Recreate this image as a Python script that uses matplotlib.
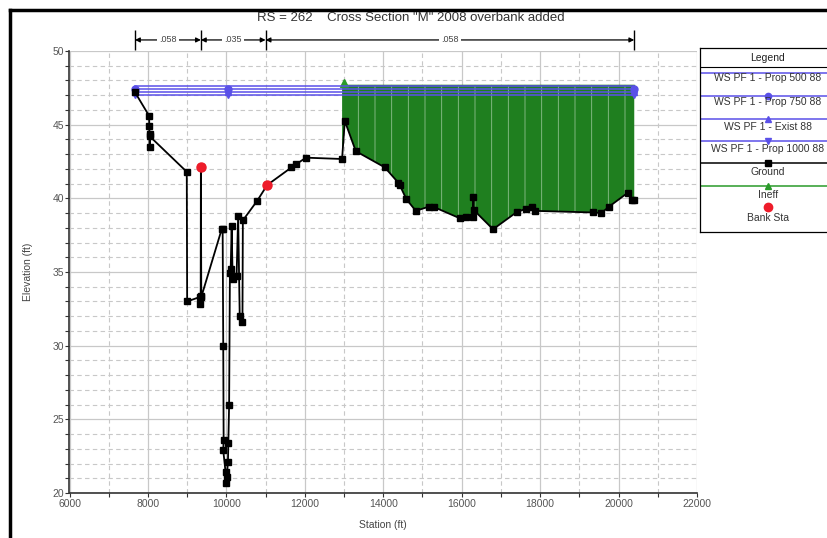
import matplotlib
matplotlib.use('Agg')
import matplotlib.pyplot as plt
from matplotlib.lines import Line2D
import numpy as np

plt.rcParams['font.family'] = ['Liberation Sans', 'DejaVu Sans']

# ground profile (station ft, elevation ft)
ground_sta = [7670, 8030, 8035, 8040, 8045, 8050, 8990, 9000, 9320, 9335, 9345, 9350, 9360,
              9880, 9905, 9920, 9930, 9920, 9980, 10000, 10010, 10040, 10050, 10070, 10090,
              10110, 10135, 10160, 10260, 10300, 10340, 10410, 10420, 10790, 11040, 11660,
              11770, 12030, 12950, 13020, 13300, 14040, 14380, 14420, 14590, 14830, 15170,
              15300, 15950, 16100, 16280, 16300, 16310, 16800, 17400, 17650, 17800, 17860,
              19350, 19560, 19760, 20240, 20330, 20400]
ground_elev = [47.2, 45.6, 44.9, 44.4, 43.5, 44.2, 41.8, 33.0, 33.3, 32.8, 33.4, 42.1, 33.3,
               37.9, 37.9, 30.0, 23.6, 22.9, 21.4, 20.7, 21.1, 22.1, 23.4, 26.0, 34.9,
               35.2, 38.1, 34.5, 34.7, 38.8, 32.0, 31.6, 38.5, 39.85, 40.9, 42.1,
               42.3, 42.76, 42.67, 45.25, 43.2, 42.1, 41.07, 40.9, 39.94, 39.15, 39.44,
               39.4, 38.65, 38.7, 38.76, 40.1, 39.2, 37.9, 39.06, 39.3, 39.44, 39.15,
               39.04, 39.0, 39.44, 40.39, 39.9, 39.9]

# water surfaces
ws_names = ['WS PF 1 - Prop 500 88', 'WS PF 1 - Prop 750 88',
            'WS PF 1 - Exist 88', 'WS PF 1 - Prop 1000 88']
ws_elev = [47.6, 47.4, 47.2, 47.0]
ws_sta = [7670, 10030, 20400]
ws_markers = ['', 'o', '^', 'v']

# ineffective flow area
ineff_left = 12950
ineff_right = 20400
ineff_elev = 47.7

# bank stations
bank_sta = [9350, 11040]
bank_elev = [42.1, 40.9]

# manning's n breaks
n_sta = [7670, 9350, 11000, 20400]
n_vals = ['.058', '.035', '.058']

WS_COLOR = '#5a50e8'
GREEN = '#1f7f1f'

fig = plt.figure(figsize=(8.28, 5.38), dpi=100)
ax = fig.add_axes([69.5 / 828, 1 - 493 / 538, (697 - 69.5) / 828, (493 - 51) / 538])

ax.set_xlim(6000, 22000)
ax.set_ylim(20, 50)
ax.set_xticks(np.arange(6000, 22001, 2000))
ax.set_xticks(np.arange(7000, 22000, 2000), minor=True)
ax.set_yticks(np.arange(20, 51, 5))
ax.set_yticks(np.arange(20, 51, 1), minor=True)
ax.grid(which='major', color='#c8c8c8', lw=0.9, ls='-')
ax.grid(which='minor', color='#c8c8c8', lw=0.8, ls=(0, (4, 3)))
ax.set_axisbelow(True)
for s in ['top', 'right']:
    ax.spines[s].set_visible(False)
for s in ['left', 'bottom']:
    ax.spines[s].set_color('#333333')
    ax.spines[s].set_linewidth(1.2)
ax.tick_params(which='both', direction='out', length=3, width=0.8, colors='#333333',
               labelsize=7.5, labelcolor='#555555', pad=1)
ax.set_xlabel('Station (ft)', fontsize=7.5, color='#444444', labelpad=8)
ax.set_ylabel('Elevation (ft)', fontsize=7.5, color='#444444', labelpad=14)

gs = np.array(ground_sta)
ge = np.array(ground_elev)
sel = (gs >= ineff_left) & (gs <= ineff_right)
plt.rcParams['hatch.color'] = '#8fbf8f'
plt.rcParams['hatch.linewidth'] = 0.6
ax.fill_between(gs[sel], ge[sel], ineff_elev, facecolor=GREEN, edgecolor='#8fbf8f',
                hatch='|', linewidth=0, zorder=2)
ax.plot([ineff_left, ineff_right], [ineff_elev, ineff_elev], color=GREEN, lw=1, zorder=2)
ax.plot([ineff_left + 50], [ineff_elev + 0.1], marker='^', color='#2a9a2a', ms=6, zorder=3,
        clip_on=False)

for name, el, mk in zip(ws_names, ws_elev, ws_markers):
    ax.plot(ws_sta, [el] * len(ws_sta), color=WS_COLOR, lw=1.1, marker=mk or None,
            ms=5, zorder=4)

ax.plot(ground_sta, ground_elev, color='black', lw=1.3, marker='s', ms=3.8, zorder=5)
ax.plot(bank_sta, bank_elev, 'o', color='#ee1c2a', ms=6.5, zorder=6)

# manning's n dimension line above the plot
tr = ax.get_xaxis_transform()
yb = 1.025
ax.vlines(n_sta, 1.002, 1.047, color='black', lw=1, transform=tr, clip_on=False)
for i, lab in enumerate(n_vals):
    x0, x1 = n_sta[i], n_sta[i + 1]
    ax.annotate('', xy=(x0, yb), xytext=(x1, yb), xycoords=tr, textcoords=tr,
                arrowprops=dict(arrowstyle='<|-|>', color='black', lw=0.9,
                                mutation_scale=7, shrinkA=0, shrinkB=0))
    ax.text((x0 + x1) / 2, yb, lab, transform=tr, ha='center', va='center',
            fontsize=6.5, color='#444444',
            bbox=dict(facecolor='white', edgecolor='none', pad=1.5))

fig.text(411 / 828, 1 - 18 / 538, 'RS = 262    Cross Section "M" 2008 overbank added',
         ha='center', va='center', fontsize=9.5, color='#333333')

# legend box drawn by hand
lax = fig.add_axes([700 / 828, 1 - 232 / 538, 0.165, (232 - 48) / 538])
lax.set_xlim(700, 700 + 0.165 * 828)
lax.set_ylim(232, 48)
lax.set_xticks([])
lax.set_yticks([])
for s in lax.spines.values():
    s.set_linewidth(0.9)
lax.text(768, 58, 'Legend', ha='center', va='center', fontsize=7.5, color='#222222')
lax.plot([700, 840], [67, 67], color='black', lw=0.8)
lx = [700, 840]
entries = [(73, 78, WS_COLOR, '', ws_names[0]),
           (96, 102, WS_COLOR, 'o', ws_names[1]),
           (119, 127, WS_COLOR, '^', ws_names[2]),
           (141, 149, WS_COLOR, 'v', ws_names[3]),
           (163, 172, 'black', 's', 'Ground'),
           (186, 195, '#2a9a2a', '^', 'Ineff')]
for ly, ty, col, mk, lab in entries:
    lax.plot(lx, [ly, ly], color=col, lw=1.1)
    if mk:
        lax.plot([768], [ly], marker=mk, color=col, ms=4.5)
    lax.text(768, ty, lab, ha='center', va='center', fontsize=7.5, color='#333333')
lax.plot([768], [207], 'o', color='#ee1c2a', ms=6)
lax.text(768, 218, 'Bank Sta', ha='center', va='center', fontsize=7.5, color='#333333')

# outer frame (top and left edges)
fig.add_artist(Line2D([10 / 828, 10 / 828], [0, 1 - 10 / 538], color='black', lw=2.5,
                      transform=fig.transFigure))
fig.add_artist(Line2D([10 / 828, 1], [1 - 10 / 538, 1 - 10 / 538], color='black', lw=2.5,
                      transform=fig.transFigure))

fig.savefig('out.png', dpi=100)
